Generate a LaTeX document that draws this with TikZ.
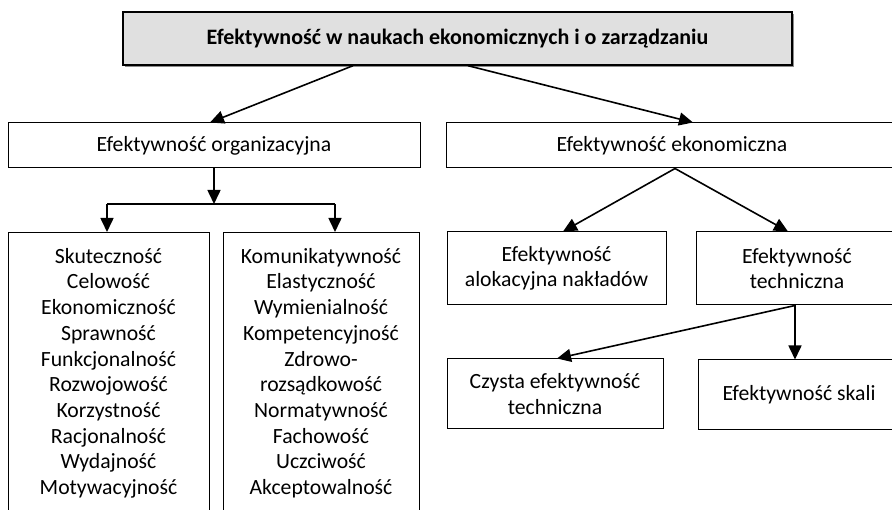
\documentclass[tikz,border=0pt]{standalone}
\usepackage{fontspec}
\setmainfont{Carlito}
\usetikzlibrary{arrows.meta,calc}
\definecolor{titlefill}{RGB}{224,224,224}
\definecolor{shadowgray}{RGB}{140,140,140}
\tikzset{
  box/.style={draw=black, line width=1pt, rectangle, inner sep=0pt, align=center,
    font=\fontsize{21.7}{25.6}\selectfont},
  listtext/.style={inner sep=0pt, align=center, anchor=north,
    font=\fontsize{21.7}{25.7}\selectfont},
  arr/.style={line width=1.6pt, -{Triangle[length=14pt,width=13pt]}},
  plain/.style={line width=1.6pt}
}
\begin{document}
\begin{tikzpicture}[x=1pt,y=-1pt]
\useasboundingbox (0,0) rectangle (892,510);
\clip (0,0) rectangle (892,510);
% title with shadow
\fill[shadowgray] (125,14) rectangle (794,67);
\node[box, line width=1.4pt, fill=titlefill, minimum width=669pt, minimum height=53pt,
  font=\fontsize{22}{26}\selectfont\bfseries] (title) at (457.5,38.5)
  {Efektywność w naukach ekonomicznych i o zarządzaniu};
% second level
\node[box, minimum width=412pt, minimum height=45pt] (org) at (214,145.5) {Efektywność organizacyjna};
\node[box, minimum width=452pt, minimum height=45pt] (econ) at (672,145.5) {Efektywność ekonomiczna};
% list boxes
\node[box, anchor=north, minimum width=201pt, minimum height=300pt] (L) at (108.5,232) {};
\node[listtext] (Ltext) at ([yshift=-16]L.north)
  {Skuteczność\\Celowość\\Ekonomiczność\\Sprawność\\Funkcjonalność\\Rozwojowość\\Korzystność\\Racjonalność\\Wydajność\\Motywacyjność};
\node[box, anchor=north, minimum width=196pt, minimum height=300pt] (R) at (321,232) {};
\node[listtext] (Rtext) at ([yshift=-16]R.north)
  {Komunikatywność\\Elastyczność\\Wymienialność\\Kompetencyjność\\Zdrowo-\\rozsądkowość\\Normatywność\\Fachowość\\Uczciwość\\Akceptowalność};
% economic branch
\node[box, minimum width=219pt, minimum height=73pt] (alloc) at (556.5,268.5) {Efektywność\\alokacyjna nakładów};
\node[box, minimum width=202pt, minimum height=73pt] (tech) at (797,268.5) {Efektywność\\techniczna};
\node[box, minimum width=216pt, minimum height=70pt] (pure) at (555,394) {Czysta efektywność\\techniczna};
\node[box, minimum width=202pt, minimum height=70pt] (scale) at (799,395) {Efektywność skali};
% connectors
\draw[arr] ([xshift=-104.5]title.south) -- ([xshift=-4]org.north);
\draw[arr] ([xshift=10.5]title.south) -- ([xshift=21]econ.north);
\coordinate (split) at (214,204);
\coordinate (jl) at (107,204);
\coordinate (jr) at (335,204);
\draw[arr] (org.south) -- (split);
\draw[plain] (jl) -- (jr);
\draw[arr] (jl) -- (jl |- L.north);
\draw[arr] (jr) -- (jr |- R.north);
\draw[arr] ([xshift=3]econ.south) -- ([xshift=6.5]alloc.north);
\draw[arr] ([xshift=3]econ.south) -- ([xshift=-9]tech.north);
\draw[arr] ([xshift=-2]tech.south) -- ([xshift=2]pure.north);
\draw[arr] ([xshift=-2]tech.south) -- ([xshift=-2]tech.south |- scale.north);
\end{tikzpicture}
\end{document}
